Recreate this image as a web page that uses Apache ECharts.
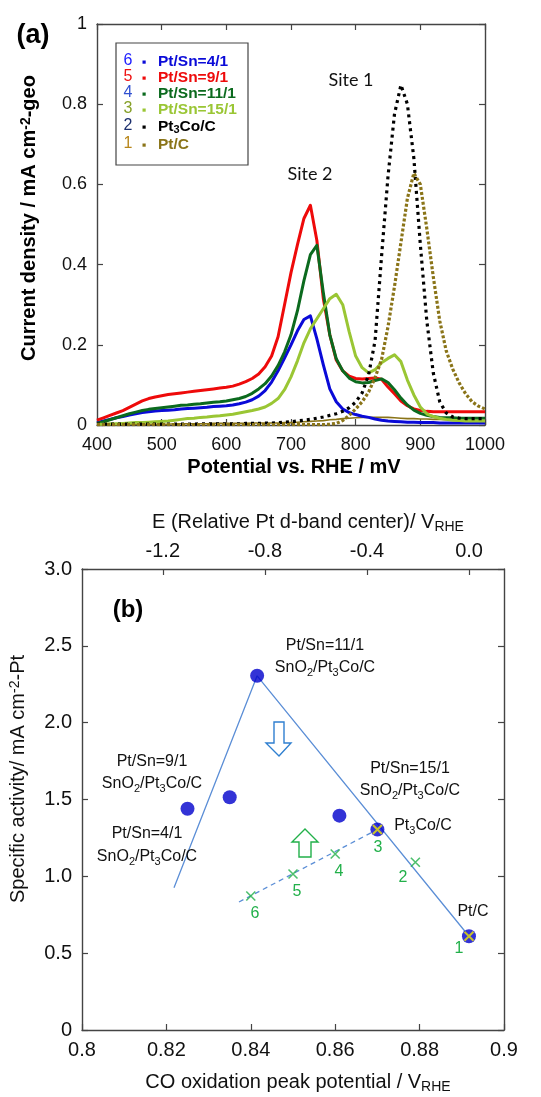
<!DOCTYPE html>
<html><head><meta charset="utf-8">
<script src="https://cdn.jsdelivr.net/npm/echarts@6/dist/echarts.min.js"></script>
<style>html,body{margin:0;padding:0;background:#fff}#c{width:541px;height:1097px}</style>
</head><body><div id="c"></div>
<script>
// ---------- Panel (a) data: CO stripping curves ----------
const potentials = [400,410,420,430,440,450,460,470,480,490,500,510,520,530,540,550,560,570,580,590,600,610,620,630,640,650,660,670,680,690,700,710,720,730,740,750,760,770,780,790,800,810,820,830,840,850,860,870,880,890,900,910,920,930,940,950,960,970,980,990,1000];
const ptSn4 = [0.006,0.01,0.014,0.018,0.021,0.025,0.028,0.031,0.033,0.035,
  0.036,0.037,0.038,0.04,0.041,0.042,0.043,0.044,0.046,0.047,
  0.048,0.05,0.053,0.057,0.063,0.072,0.086,0.107,0.135,0.167,
  0.2,0.235,0.263,0.272,0.215,0.15,0.09,0.058,0.04,0.031,
  0.026,0.022,0.019,0.015,0.012,0.01,0.009,0.008,0.007,0.007,
  0.006,0.006,0.006,0.005,0.005,0.005,0.005,0.005,0.005,0.005,0.005];
const ptSn9 = [0.012,0.018,0.024,0.03,0.036,0.044,0.052,0.06,0.066,0.07,
  0.073,0.076,0.078,0.08,0.082,0.084,0.086,0.088,0.09,0.092,
  0.094,0.097,0.102,0.108,0.116,0.127,0.145,0.172,0.22,0.3,
  0.38,0.45,0.515,0.548,0.46,0.315,0.225,0.162,0.135,0.122,
  0.116,0.115,0.116,0.117,0.114,0.095,0.078,0.06,0.048,0.04,
  0.036,0.034,0.033,0.033,0.033,0.033,0.033,0.033,0.033,0.033,0.033];
const ptSn11 = [0.004,0.008,0.013,0.018,0.023,0.028,0.032,0.036,0.039,0.041,
  0.043,0.045,0.047,0.049,0.05,0.052,0.053,0.055,0.057,0.058,
  0.06,0.063,0.066,0.071,0.079,0.09,0.103,0.122,0.148,0.182,
  0.225,0.285,0.36,0.425,0.448,0.33,0.225,0.165,0.135,0.117,
  0.108,0.105,0.106,0.111,0.115,0.106,0.088,0.067,0.05,0.037,
  0.029,0.024,0.021,0.019,0.018,0.018,0.017,0.017,0.017,0.017,0.017];
const ptSn15 = [0.002,0.002,0.003,0.003,0.004,0.005,0.006,0.006,0.007,0.008,
  0.009,0.01,0.012,0.014,0.016,0.017,0.019,0.02,0.022,0.023,
  0.025,0.027,0.03,0.033,0.036,0.04,0.045,0.054,0.066,0.088,
  0.12,0.16,0.205,0.24,0.265,0.29,0.315,0.326,0.3,0.232,
  0.172,0.143,0.13,0.138,0.155,0.166,0.175,0.158,0.112,0.075,
  0.045,0.028,0.021,0.017,0.014,0.012,0.011,0.01,0.01,0.01,0.01];
const pt3Co = [0.002,0.002,0.002,0.002,0.002,0.002,0.002,0.002,0.002,0.002,
  0.002,0.002,0.002,0.002,0.002,0.002,0.003,0.003,0.003,0.003,
  0.003,0.003,0.003,0.004,0.004,0.004,0.005,0.005,0.006,0.007,
  0.008,0.01,0.012,0.014,0.017,0.02,0.024,0.028,0.034,0.043,
  0.057,0.08,0.125,0.21,0.42,0.62,0.775,0.848,0.8,0.665,
  0.45,0.26,0.13,0.058,0.03,0.02,0.017,0.016,0.016,0.016,0.016];
const ptC = [0.001,0.001,0.001,0.001,0.001,0.001,0.001,0.001,0.001,0.001,
  0.001,0.001,0.001,0.001,0.001,0.001,0.001,0.001,0.001,0.001,
  0.001,0.001,0.001,0.001,0.001,0.001,0.001,0.001,0.001,0.001,
  0.001,0.001,0.001,0.001,0.001,0.001,0.002,0.004,0.011,0.024,
  0.04,0.058,0.082,0.118,0.163,0.245,0.345,0.455,0.565,0.628,
  0.6,0.49,0.37,0.26,0.185,0.14,0.105,0.078,0.058,0.047,0.04];
const ptCBase = [0.001,0.001,0.001,0.001,0.001,0.002,0.002,0.002,0.002,0.002,
  0.002,0.002,0.003,0.003,0.003,0.003,0.003,0.003,0.004,0.004,
  0.004,0.004,0.004,0.004,0.005,0.005,0.005,0.005,0.005,0.006,
  0.006,0.007,0.008,0.009,0.01,0.011,0.013,0.014,0.016,0.017,
  0.018,0.019,0.019,0.019,0.019,0.019,0.018,0.017,0.016,0.016,
  0.015,0.015,0.014,0.014,0.013,0.013,0.012,0.012,0.011,0.011,0.01];

const legendNums = ['6','5','4','3','2','1'];
const legendLabels = ['Pt/Sn=4/1','Pt/Sn=9/1','Pt/Sn=11/1','Pt/Sn=15/1','Pt_{3}Co/C','Pt/C'];
const numColors = ['#2020ff','#ee1111','#3050d0','#86a028','#1c2f6e','#b8861a'];
const seriesColors = ['#0a0ad8','#ee0a0a','#0b6a1e','#9ac634','#000000','#8a7418'];

// ---------- Panel (b) data ----------
const sno2Points = [[0.8415,2.305],[0.825,1.44],[0.835,1.515],[0.861,1.395],[0.870,1.305],[0.8917,0.61]];
const greenXPoints = [[0.840,0.872],[0.850,1.015],[0.860,1.145],[0.879,1.092]];
const yellowXPoints = [[0.870,1.305],[0.8917,0.61]];
const volcanoLine = [[0.8218,0.926],[0.8415,2.305],[0.8917,0.61]];
const dashedLine = [[0.8372,0.833],[0.870,1.305]];
const dbandTicks = [-1.2,-0.8,-0.4,0];

const FONT = '"Liberation Sans", Arial, Helvetica, sans-serif';
const AX = '#444';

function rt(s){
  let out='', re=/([_^])\{([^}]*)\}/g, last=0, m;
  while((m=re.exec(s))){
    if(m.index>last) out+='{b|'+s.slice(last,m.index)+'}';
    out+='{'+(m[1]==='_'?'s':'p')+'|'+m[2]+'}';
    last=re.lastIndex;
  }
  if(last<s.length) out+='{b|'+s.slice(last)+'}';
  return out;
}
function richSet(fs, weight, color, family){
  const sf=Math.round(fs*0.68), f=family||FONT;
  return {
    b:{fontSize:fs,fontWeight:weight,fontFamily:f,fill:color,color:color,lineHeight:fs+2,verticalAlign:'top'},
    s:{fontSize:sf,fontWeight:weight,fontFamily:f,fill:color,color:color,lineHeight:sf,padding:[Math.round(fs*0.55),0,0,0],verticalAlign:'bottom'},
    p:{fontSize:sf,fontWeight:weight,fontFamily:f,fill:color,color:color,lineHeight:sf,verticalAlign:'top'}
  };
}
function gtext(x,y,str,fs,o){
  o=o||{};
  const color=o.color||'#111', weight=o.weight||'normal';
  return {type:'text', x:x, y:y, rotation:o.rot||0, z:100,
    style:{text:rt(str), rich:richSet(fs,weight,color,o.family), fill:color,
      fontSize:fs, fontFamily:o.family||FONT, fontWeight:weight,
      align:o.align||'center', verticalAlign:'middle'}};
}

const chart = echarts.init(document.getElementById('c'), null, {renderer:'canvas'});

function valAxis(extra){
  return Object.assign({
    type:'value',
    axisLine:{show:true,onZero:false,lineStyle:{color:AX,width:1.4}},
    axisTick:{show:true,inside:true,length:6,lineStyle:{color:AX,width:1.2}},
    splitLine:{show:false},
    axisLabel:{show:false}
  }, extra);
}

const graphics = [];
graphics.push(gtext(33,37,'(a)',27,{weight:'bold',color:'#000'}));
graphics.push(gtext(128,611,'(b)',24,{weight:'bold',color:'#000'}));
graphics.push(gtext(30,218,'Current density / mA cm^{-2}-geo',20,{weight:'bold',color:'#000',rot:Math.PI/2}));
graphics.push(gtext(294,468,'Potential vs. RHE / mV',20,{weight:'bold',color:'#000'}));
graphics.push(gtext(308,523,'E (Relative Pt d-band center)/ V_{RHE}',20,{color:'#111'}));
graphics.push(gtext(19,779,'Specific activity/ mA cm^{-2}-Pt',20,{color:'#111',rot:Math.PI/2}));
graphics.push(gtext(298,1083,'CO oxidation peak potential / V_{RHE}',20,{color:'#111'}));
graphics.push(gtext(351,81,'Site 1',18,{color:'#111',family:'Lato, "Open Sans", sans-serif'}));
graphics.push(gtext(310,175,'Site 2',18,{color:'#111',family:'Lato, "Open Sans", sans-serif'}));

// legend box
graphics.push({type:'rect', z:90, shape:{x:116,y:43,width:132,height:122}, style:{fill:'#fff',stroke:'#444',lineWidth:1.2}});
const rowsY=[62,78,94,110,127,145];
legendNums.forEach((n,i)=>{
  graphics.push(gtext(128,rowsY[i],n,16,{color:numColors[i]}));
  graphics.push({type:'rect', z:100, shape:{x:142.5,y:rowsY[i]-1.5,width:3.2,height:3.2}, style:{fill:seriesColors[i]}});
  graphics.push(gtext(158,rowsY[i],legendLabels[i],15.5,{color:seriesColors[i],weight:'bold',align:'left'}));
});

// panel b annotations
const annots = [
  [325,647,'Pt/Sn=11/1'],[325,669,'SnO_{2}/Pt_{3}Co/C'],
  [152,763,'Pt/Sn=9/1'],[152,785,'SnO_{2}/Pt_{3}Co/C'],
  [147,835,'Pt/Sn=4/1'],[147,858,'SnO_{2}/Pt_{3}Co/C'],
  [410,770,'Pt/Sn=15/1'],[410,792,'SnO_{2}/Pt_{3}Co/C'],
  [423,827,'Pt_{3}Co/C'],[473,913,'Pt/C']
];
annots.forEach(a=>graphics.push(gtext(a[0],a[1],a[2],16,{color:'#111'})));
const nums = [[378,849,'3'],[339,873,'4'],[297,893,'5'],[255,915,'6'],[403,879,'2'],[459,950,'1']];
nums.forEach(a=>graphics.push(gtext(a[0],a[1],a[2],16,{color:'#22b04a'})));
// arrows
graphics.push({type:'polygon', z:95, shape:{points:[[274,722],[284,722],[284,743],[291,743],[279,756],[266,743],[274,743]]}, style:{fill:'#fff',stroke:'#2f7fd0',lineWidth:1.4}});
graphics.push({type:'polygon', z:95, shape:{points:[[305,829],[318,842],[311,842],[311,857],[299,857],[299,842],[292,842]]}, style:{fill:'#fff',stroke:'#22b04a',lineWidth:1.4}});

function curve(name, vals, color, dash, width){
  return {name, type:'line', xAxisIndex:0, yAxisIndex:0, showSymbol:false, symbol:'none', silent:true,
    data: potentials.map((p,i)=>[p, vals[i]]),
    lineStyle:{color, width:width||3, type:dash||'solid', cap:'butt', join:'round'}, z:5};
}
const X_PATH = 'path://M0,0L10,10M10,0L0,10';

const option = {
  backgroundColor:'#fff',
  animation:false,
  grid:[{left:97,top:24,width:388,height:401},{left:82,top:569,width:422,height:461}],
  xAxis:[
    valAxis({gridIndex:0,position:'bottom',min:400,max:1000,interval:100,
      axisLabel:{show:true,margin:11,color:'#111',fontSize:18,fontFamily:FONT,formatter:v=>String(v)}}),
    valAxis({gridIndex:0,position:'top',min:400,max:1000,interval:100}),
    valAxis({gridIndex:1,position:'bottom',min:0.8,max:0.9,interval:0.02,
      axisLabel:{show:true,margin:10,color:'#111',fontSize:20,fontFamily:FONT,
        formatter:v=>String(parseFloat(v.toFixed(2)))}}),
    valAxis({gridIndex:1,position:'top',min:-1.5167,max:0.1369,
      axisTick:{show:true,inside:true,length:6,customValues:dbandTicks,lineStyle:{color:AX,width:1.2}},
      axisLabel:{show:true,margin:8,color:'#111',fontSize:20,fontFamily:FONT,customValues:dbandTicks,
        formatter:v=>v.toFixed(1)}})
  ],
  yAxis:[
    valAxis({gridIndex:0,position:'left',min:0,max:1,interval:0.2,
      axisLabel:{show:true,margin:10,color:'#111',fontSize:18,fontFamily:FONT,
        formatter:v=>(v===0?'0':(Math.abs(v-1)<1e-9?'1':v.toFixed(1)))}}),
    valAxis({gridIndex:0,position:'right',min:0,max:1,interval:0.2}),
    valAxis({gridIndex:1,position:'left',min:0,max:3,interval:0.5,
      axisLabel:{show:true,margin:10,color:'#111',fontSize:20,fontFamily:FONT,
        formatter:v=>(v===0?'0':v.toFixed(1))}}),
    valAxis({gridIndex:1,position:'right',min:0,max:3,interval:0.5})
  ],
  graphic: graphics,
  series:[
    curve('Pt/C base', ptCBase, '#8a7418', 'solid', 1.6),
    curve('Pt/Sn=4/1', ptSn4, seriesColors[0], 'solid', 3),
    curve('Pt/Sn=9/1', ptSn9, seriesColors[1], 'solid', 3),
    curve('Pt/Sn=11/1', ptSn11, seriesColors[2], 'solid', 3),
    curve('Pt/Sn=15/1', ptSn15, seriesColors[3], 'solid', 3),
    curve('Pt3Co/C', pt3Co, seriesColors[4], [3,4], 3.2),
    curve('Pt/C', ptC, seriesColors[5], [3,2], 3.2),
    {type:'line', xAxisIndex:2, yAxisIndex:2, data:volcanoLine, showSymbol:false, symbol:'none',
      lineStyle:{color:'#5b8ed6',width:1.3}, z:3},
    {type:'line', xAxisIndex:2, yAxisIndex:2, data:dashedLine, showSymbol:false, symbol:'none',
      lineStyle:{color:'#5b8ed6',width:1.3,type:[5,4]}, z:3},
    {type:'scatter', xAxisIndex:2, yAxisIndex:2, data:sno2Points, symbol:'circle', symbolSize:14,
      itemStyle:{color:'#0000cc'}, z:6},
    {type:'scatter', xAxisIndex:2, yAxisIndex:2, data:greenXPoints, symbol:X_PATH, symbolSize:9,
      itemStyle:{color:'rgba(0,0,0,0)',borderColor:'#22b04a',borderWidth:1.6}, z:7},
    {type:'scatter', xAxisIndex:2, yAxisIndex:2, data:yellowXPoints, symbol:X_PATH, symbolSize:9,
      itemStyle:{color:'rgba(0,0,0,0)',borderColor:'#f0e800',borderWidth:2}, z:8}
  ]
};
chart.setOption(option);
</script></body></html>
